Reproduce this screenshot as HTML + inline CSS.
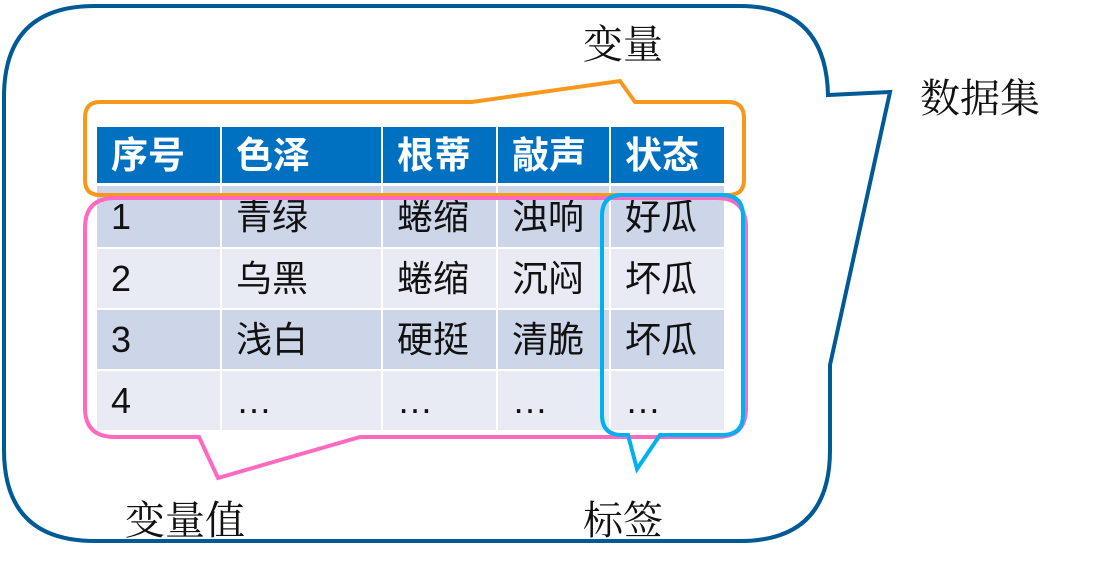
<!DOCTYPE html>
<html><head><meta charset="utf-8"><style>
body{margin:0;width:1095px;height:564px;background:#fff;position:relative;overflow:hidden;font-family:"Liberation Sans","Noto Sans CJK SC",sans-serif}
.c{position:absolute;display:flex;align-items:center;font-size:36px;color:#111;padding-left:14px;box-sizing:border-box;line-height:1}
.h{background:#0070c0;color:#fff;font-weight:bold;font-size:37px}
.a{background:#cdd5e8}.b{background:#e8ebf4}
.l{position:absolute;font-size:40px;color:#111;font-family:"Noto Serif CJK SC","Noto Sans CJK SC",serif;line-height:1}
</style></head><body>
<svg width="1095" height="564" style="position:absolute;left:0;top:0">
<path d="M95,6 H740 Q826,6 828,95 L890,92 L830,365 V450 Q830,541 740,541 H95 Q4,541 4,450 V97 Q4,6 95,6 Z" fill="none" stroke="#005a96" stroke-width="4"/>
</svg>
<div class="c h" style="left:97px;top:127px;width:123px;height:56px">序号</div>
<div class="c h" style="left:222px;top:127px;width:159px;height:56px">色泽</div>
<div class="c h" style="left:383px;top:127px;width:113px;height:56px">根蒂</div>
<div class="c h" style="left:498px;top:127px;width:111px;height:56px">敲声</div>
<div class="c h" style="left:611px;top:127px;width:113px;height:56px">状态</div>

<div class="c a" style="left:97px;top:186px;width:123px;height:61px">1</div>
<div class="c a" style="left:222px;top:186px;width:159px;height:61px">青绿</div>
<div class="c a" style="left:383px;top:186px;width:113px;height:61px">蜷缩</div>
<div class="c a" style="left:498px;top:186px;width:111px;height:61px">浊响</div>
<div class="c a" style="left:611px;top:186px;width:113px;height:61px">好瓜</div>

<div class="c b" style="left:97px;top:249px;width:123px;height:59px">2</div>
<div class="c b" style="left:222px;top:249px;width:159px;height:59px">乌黑</div>
<div class="c b" style="left:383px;top:249px;width:113px;height:59px">蜷缩</div>
<div class="c b" style="left:498px;top:249px;width:111px;height:59px">沉闷</div>
<div class="c b" style="left:611px;top:249px;width:113px;height:59px">坏瓜</div>

<div class="c a" style="left:97px;top:310px;width:123px;height:59px">3</div>
<div class="c a" style="left:222px;top:310px;width:159px;height:59px">浅白</div>
<div class="c a" style="left:383px;top:310px;width:113px;height:59px">硬挺</div>
<div class="c a" style="left:498px;top:310px;width:111px;height:59px">清脆</div>
<div class="c a" style="left:611px;top:310px;width:113px;height:59px">坏瓜</div>

<div class="c b" style="left:97px;top:371px;width:123px;height:59px">4</div>
<div class="c b" style="left:222px;top:371px;width:159px;height:59px">…</div>
<div class="c b" style="left:383px;top:371px;width:113px;height:59px">…</div>
<div class="c b" style="left:498px;top:371px;width:111px;height:59px">…</div>
<div class="c b" style="left:611px;top:371px;width:113px;height:59px">…</div>

<svg width="1095" height="564" style="position:absolute;left:0;top:0">
<path d="M100,102 H472 L620,81 L635,102 H728 Q744,102 744,118 V180 Q744,195 728,195 H100 Q85,195 85,180 V118 Q85,102 100,102 Z" fill="none" stroke="#f7981d" stroke-width="4"/>
<path d="M115,198 H717 Q746,198 746,228 V408 Q746,437 717,437 H360 L218,478 L199,437 H115 Q85,437 85,408 V228 Q85,198 115,198 Z" fill="none" stroke="#ff69c0" stroke-width="4"/>
<path d="M622,195 H722 Q743,195 743,216 V415 Q743,435 722,435 H660 L637,469 L628,435 H622 Q602,435 602,415 V216 Q602,195 622,195 Z" fill="none" stroke="#00b0f0" stroke-width="4"/>
</svg>
<div class="l" style="left:583px;top:22px">变量</div>
<div class="l" style="left:920px;top:76px">数据集</div>
<div class="l" style="left:125px;top:498px">变量值</div>
<div class="l" style="left:583px;top:498px">标签</div>
</body></html>
